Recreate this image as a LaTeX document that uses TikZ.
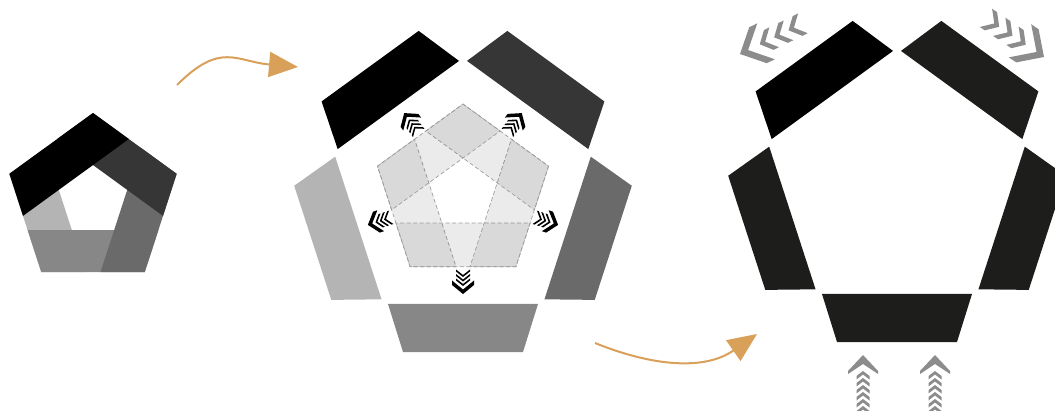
\documentclass[tikz,border=0pt]{standalone}
\usepackage{tikz}
\usetikzlibrary{arrows.meta, calc}
\usepackage{xcolor}
\definecolor{tonedark}{HTML}{363636}
\definecolor{tonemid}{HTML}{6A6A6A}
\definecolor{tonegray}{HTML}{878787}
\definecolor{tonelight}{HTML}{B4B4B4}
\definecolor{toneink}{HTML}{1D1D1B}
\definecolor{chevgray}{HTML}{8C8C8C}
\definecolor{floworange}{HTML}{D9A05A}

\begin{document}
\begin{tikzpicture}[
    x=1pt, y=1pt,
    ghost/.style={fill=black, fill opacity=0.08, draw=black!38, dash pattern=on 4pt off 2.5pt, line width=0.7pt},
    flow/.style={-{Triangle[length=29pt, width=25pt]}, draw=floworange, line width=2pt},
    tinychevs/.pic={
        \fill (0,0) -- (-9,11) -- (-13.5,11) -- (-4.5,0) -- (-13.5,-11) -- (-9,-11) -- cycle;
        \foreach \d in {8,12.5,17}
            \fill[xshift=-\d] (0,0) -- (-5.5,7) -- (-7.5,7) -- (-2,0) -- (-7.5,-7) -- (-5.5,-7) -- cycle;
    },
    sidechevs/.pic={
        \fill (0,0) -- (-20,20) -- (-29,20) -- (-9,0) -- (-29,-20) -- (-20,-20) -- cycle;
        \foreach \d in {22,38,54}
            \fill[xshift=-\d] (0,0) -- (-10,11) -- (-16,11) -- (-6,0) -- (-16,-11) -- (-10,-11) -- cycle;
    },
    upchevs/.pic={
        \fill (0,0) -- (-16,15) -- (-19,15) -- (-9,0) -- (-19,-15) -- (-16,-15) -- cycle;
        \foreach \d in {16,23,30,37,44,51}
            \fill[xshift=-\d] (0,0) -- (-5,6.5) -- (-8.5,6.5) -- (-3.5,0) -- (-8.5,-6.5) -- (-5,-6.5) -- cycle;
    }
]
    \useasboundingbox (0,0) rectangle (1055,410);

    % Centres
    \coordinate (leftc) at (93,209);
    \coordinate (midc) at (463,216);
    \coordinate (rightc) at (897,226);

    % Assembled pentagon
    \foreach \ang/\col in {198/tonelight, 270/tonegray, 342/tonemid, 54/tonedark, 126/black}
        \fill[\col, shift={(leftc)}, rotate=\ang-90] (-51.7,71.2) -- (51.7,71.2) -- (65.4,29.1) -- (-65.4,29.1) -- cycle;

    % Ghost of the assembled pentagon
    \foreach \ang in {198,270,342,54,126}
        \filldraw[ghost, shift={(midc)}, rotate=\ang-90] (-52.9,72.8) -- (52.9,72.8) -- (67.1,29.1) -- (-67.1,29.1) -- cycle;

    % Exploded pieces
    \foreach \ang/\col in {198/tonelight, 270/tonegray, 342/tonemid, 54/tonedark, 126/black}
        \fill[\col, shift={(midc)}, rotate=\ang-90] (-60,158) -- (60,158) -- (75,110) -- (-75,110) -- cycle;

    % Small chevrons
    \foreach \ang in {198,270,342,54,126}
        \path (midc) ++(\ang:100) pic[rotate=\ang] {tinychevs};

    % Final pentagon
    \foreach \ang/\col in {198/toneink, 270/toneink, 342/toneink, 54/toneink, 126/black}
        \fill[\col, shift={(rightc)}, rotate=\ang-90] (-60,158) -- (60,158) -- (75,110) -- (-75,110) -- cycle;

    % Gray chevrons
    \path (740,356) pic[chevgray, rotate=206] {sidechevs};
    \path (1044,353) pic[chevgray, rotate=326] {sidechevs};
    \path (863,55) pic[chevgray, rotate=90] {upchevs};
    \path (935,55) pic[chevgray, rotate=90] {upchevs};

    % Arrows
    \coordinate (flowa) at (177,325);
    \coordinate (flowb) at (298,343);
    \coordinate (flowc) at (595,67);
    \coordinate (flowd) at (757,76);
    \draw[flow] (flowa) to[out=45, in=175, looseness=1.3] (flowb);
    \draw[flow] (flowc) to[out=-22, in=215] (flowd);
\end{tikzpicture}
\end{document}
